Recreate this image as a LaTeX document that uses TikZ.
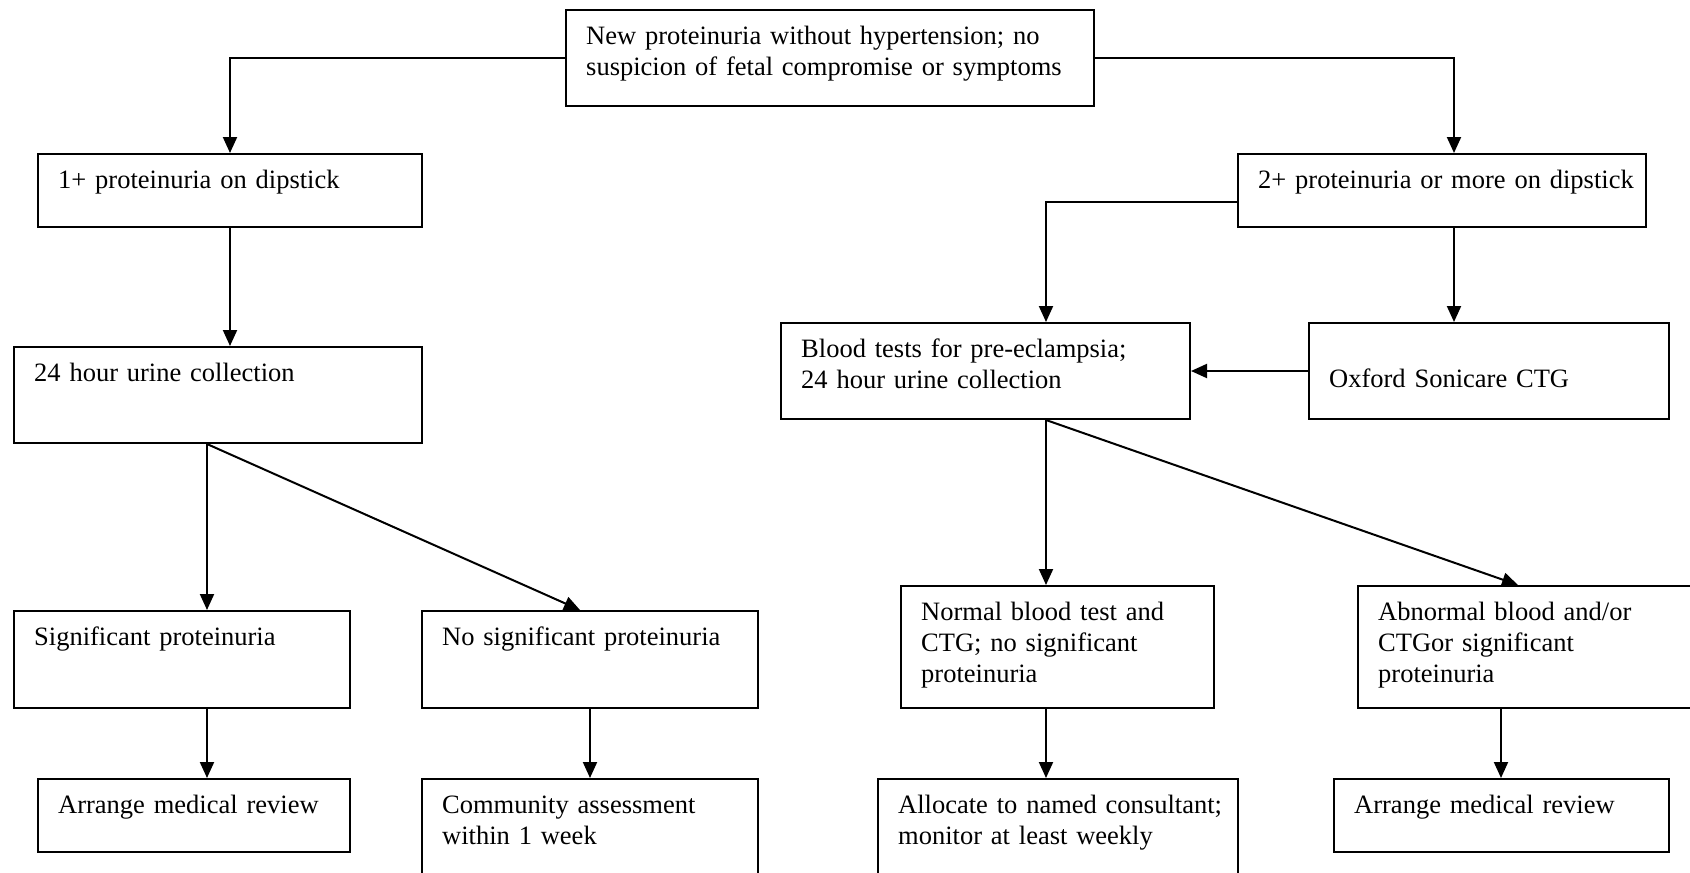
\documentclass[tikz,border=0pt]{standalone}
\usepackage{fontspec}
\setmainfont{Liberation Serif}
\usetikzlibrary{arrows.meta,positioning}

\begin{document}
\begin{tikzpicture}
[x=1pt,y=-1pt,
 box/.style={draw=black,line width=2pt,rectangle,anchor=north west,inner sep=0pt},
 txt/.style={anchor=base west,xshift=21pt,yshift=-35pt,inner sep=0pt,text width=480pt,align=left,font=\fontsize{26.5}{31}\selectfont},
 arr/.style={-{Triangle[length=16pt,width=14pt]},line width=2pt}]
\useasboundingbox (0,0) rectangle (1690,873);

% first row
\node[box,minimum width=528pt,minimum height=96pt] (top) at (565,9)
  [label={[txt]north west:New proteinuria without hypertension; no\\suspicion of fetal compromise or symptoms}] {};

% left branch
\node[box,minimum width=384pt,minimum height=73pt] (dip1) at (37,153)
  [label={[txt]north west:1+ proteinuria on dipstick}] {};
\node[box,minimum width=408pt,minimum height=96pt] (urine1) at (13,346)
  [label={[txt]north west:24 hour urine collection}] {};
\node[box,minimum width=336pt,minimum height=97pt] (sig) at (13,610)
  [label={[txt]north west:Significant proteinuria}] {};
\node[box,minimum width=336pt,minimum height=97pt] (nosig) at (421,610)
  [label={[txt]north west:No significant proteinuria}] {};
\node[box,minimum width=312pt,minimum height=73pt] (review1) at (37,778)
  [label={[txt]north west:Arrange medical review}] {};
\node[box,minimum width=336pt,minimum height=122pt] (community) at (421,778)
  [label={[txt]north west:Community assessment\\within 1 week}] {};

% right branch
\node[box,minimum width=408pt,minimum height=73pt] (dip2) at (1237,153)
  [label={[txt]north west:2+ proteinuria or more on dipstick}] {};
\node[box,minimum width=409pt,minimum height=96pt] (blood) at (780,322)
  [label={[txt]north west:Blood tests for pre-eclampsia;\\24 hour urine collection}] {};
\node[box,minimum width=360pt,minimum height=96pt] (ctg) at (1308,322)
  [label={[txt,yshift=-30pt]north west:Oxford Sonicare CTG}] {};
\node[box,minimum width=313pt,minimum height=122pt] (normal) at (900,585)
  [label={[txt]north west:Normal blood test and\\CTG; no significant\\proteinuria}] {};
\node[box,minimum width=363pt,minimum height=122pt] (abnormal) at (1357,585)
  [label={[txt]north west:Abnormal blood and/or\\CTGor significant\\proteinuria}] {};
\node[box,minimum width=360pt,minimum height=122pt] (consult) at (877,778)
  [label={[txt]north west:Allocate to named consultant;\\monitor at least weekly}] {};
\node[box,minimum width=335pt,minimum height=73pt] (review2) at (1333,778)
  [label={[txt]north west:Arrange medical review}] {};

% connectors
\draw[arr] (top.west) -| (dip1.north);
\draw[arr] (top.east) -| ([xshift=12pt]dip2.north);
\draw[arr] (dip1.south) -- (urine1.north -| dip1.south);
\draw[arr] ([xshift=-11pt]urine1.south) -- ([xshift=-11pt]urine1.south |- sig.north);
\draw[arr] ([xshift=-11pt]urine1.south) -- ([xshift=-10pt]nosig.north);
\draw[arr] ([xshift=25pt]sig.south) -- ([xshift=25pt]sig.south |- review1.north);
\draw[arr] (nosig.south) -- (community.north);

\draw[arr] ([yshift=-11.5pt]dip2.west) -| ([xshift=60.5pt]blood.north);
\draw[arr] ([xshift=12pt]dip2.south) -- ([xshift=12pt]dip2.south |- ctg.north);
\draw[arr] (ctg.west) -- (blood.east);
\draw[arr] ([xshift=60.5pt]blood.south) -- ([xshift=60.5pt]blood.south |- normal.north);
\draw[arr] ([xshift=60.5pt]blood.south) -- ([xshift=-21.5pt]abnormal.north);
\draw[arr] ([xshift=-11.5pt]normal.south) -- ([xshift=-11.5pt]normal.south |- consult.north);
\draw[arr] ([xshift=-38.5pt]abnormal.south) -- ([xshift=-38.5pt]abnormal.south |- review2.north);
\end{tikzpicture}
\end{document}
